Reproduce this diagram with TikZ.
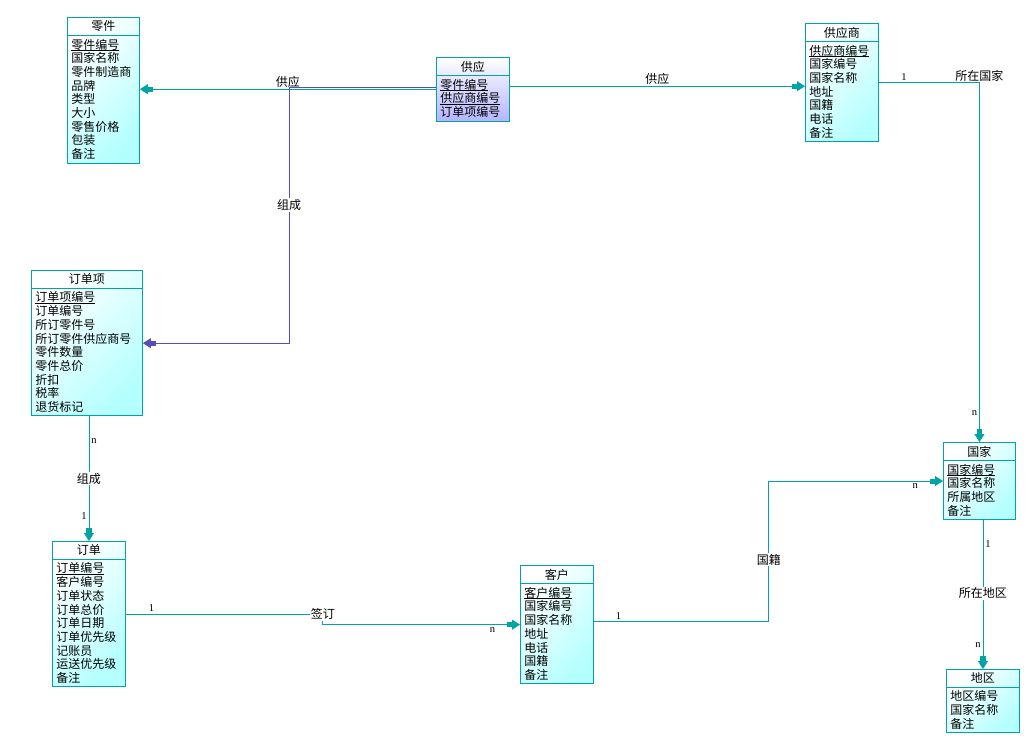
\documentclass[tikz,border=0pt]{standalone}
\usepackage{fontspec}
\setmainfont{Noto Sans CJK SC}
\newfontfamily\cardfont{Liberation Serif}
\usetikzlibrary{arrows.meta,shapes.multipart}
\definecolor{pdline}{HTML}{00A4A4}
\definecolor{pdfill}{HTML}{B4FFFF}
\definecolor{pdvio}{HTML}{5A4DB5}
\definecolor{pdlav}{HTML}{B4B4FF}
\newcommand\ukey[1]{\setbox0\hbox{#1}\rlap{\rule[-1.8pt]{\wd0}{0.6pt}}\box0}
\tikzset{
  ent/.style={rectangle split,rectangle split parts=2,draw=pdline,line width=0.9pt,
              top color=white,bottom color=pdfill,shading angle=45,anchor=north west,
              rectangle split part align={center,left},align=left,
              inner xsep=4pt,inner ysep=3pt,font=\fontsize{12}{13.7}\selectfont},
  rel/.style={ent,bottom color=pdlav},
  tarr/.style={draw=pdline,line width=0.9pt,
               -{Rectangle[length=5pt,width=5pt]Triangle[length=8pt,width=10pt]}},
  parr/.style={tarr,draw=pdvio},
  lbl/.style={fill=white,inner sep=1pt,font=\fontsize{12}{13}\selectfont},
  card/.style={inner sep=2pt,font=\cardfont\fontsize{10.5}{10.5}\selectfont}
}
\begin{document}
\begin{tikzpicture}[x=1pt,y=-1pt]
  \fill[white] (0,0) rectangle (1034,743);
  \useasboundingbox (0,0) rectangle (1034,743);
  % entities
  \node[ent,minimum width=72pt] (lj) at (67,17)
    {零件\nodepart{two}\ukey{零件编号}\\国家名称\\零件制造商\\品牌\\类型\\大小\\零售价格\\包装\\备注};
  \node[rel,minimum width=73pt] (gy) at (436,57)
    {供应\nodepart{two}\ukey{零件编号}\\\ukey{供应商编号}\\订单项编号};
  \node[ent,minimum width=73pt] (gys) at (805,23)
    {供应商\nodepart{two}\ukey{供应商编号}\\国家编号\\国家名称\\地址\\国籍\\电话\\备注};
  \node[ent,minimum width=111pt] (ddx) at (31,270)
    {订单项\nodepart{two}\ukey{订单项编号}\\订单编号\\所订零件号\\所订零件供应商号\\零件数量\\零件总价\\折扣\\税率\\退货标记};
  \node[ent,minimum width=73pt] (dd) at (52,541)
    {订单\nodepart{two}\ukey{订单编号}\\客户编号\\订单状态\\订单总价\\订单日期\\订单优先级\\记账员\\运送优先级\\备注};
  \node[ent,minimum width=73pt] (kh) at (520,565)
    {客户\nodepart{two}\ukey{客户编号}\\国家编号\\国家名称\\地址\\电话\\国籍\\备注};
  \node[ent,minimum width=72pt] (gj) at (943,442)
    {国家\nodepart{two}\ukey{国家编号}\\国家名称\\所属地区\\备注};
  \node[ent,minimum width=73pt] (dq) at (946,669)
    {地区\nodepart{two}地区编号\\国家名称\\备注};
  % relationships
  \draw[tarr] (gy.west) -- node[lbl,above,fill=none]{供应} (gy.west -| lj.east);
  \draw[tarr] ([yshift=3pt]gy.east) -- node[lbl,above]{供应} ([yshift=3pt]gy.east -| gys.west);
  \draw[parr] ([yshift=2pt]gy.west) -- ++(-147,0) |- node[lbl,pos=0.23]{组成} (ddx.east);
  \draw[tarr] (gys.east) -| node[card,pos=0.125,above]{1} node[lbl,pos=0.5,above,fill=none]{所在国家}
    node[card,pos=0.96,left]{n} (gj.north);
  \draw[tarr] (dq.north |- gj.south) -- node[card,pos=0.16,right]{1} node[lbl,pos=0.49]{所在地区}
    node[card,pos=0.84,left]{n} (dq.north);
  \draw[tarr] (dd.north |- ddx.south) -- node[card,pos=0.2,right]{n} node[lbl,pos=0.5]{组成}
    node[card,pos=0.8,left]{1} (dd.north);
  \draw[tarr] (dd.east) -- node[card,pos=0.13,above]{1} ++(197,0) node[lbl]{签订}
    |- node[card,pos=0.93,below]{n} (kh.west);
  \draw[tarr] ([yshift=3pt]kh.east) -- node[card,pos=0.14,above]{1} ++(175,0)
    |- node[lbl,pos=0.22]{国籍} node[card,pos=0.92,below]{n} (gj.west);
\end{tikzpicture}
\end{document}
